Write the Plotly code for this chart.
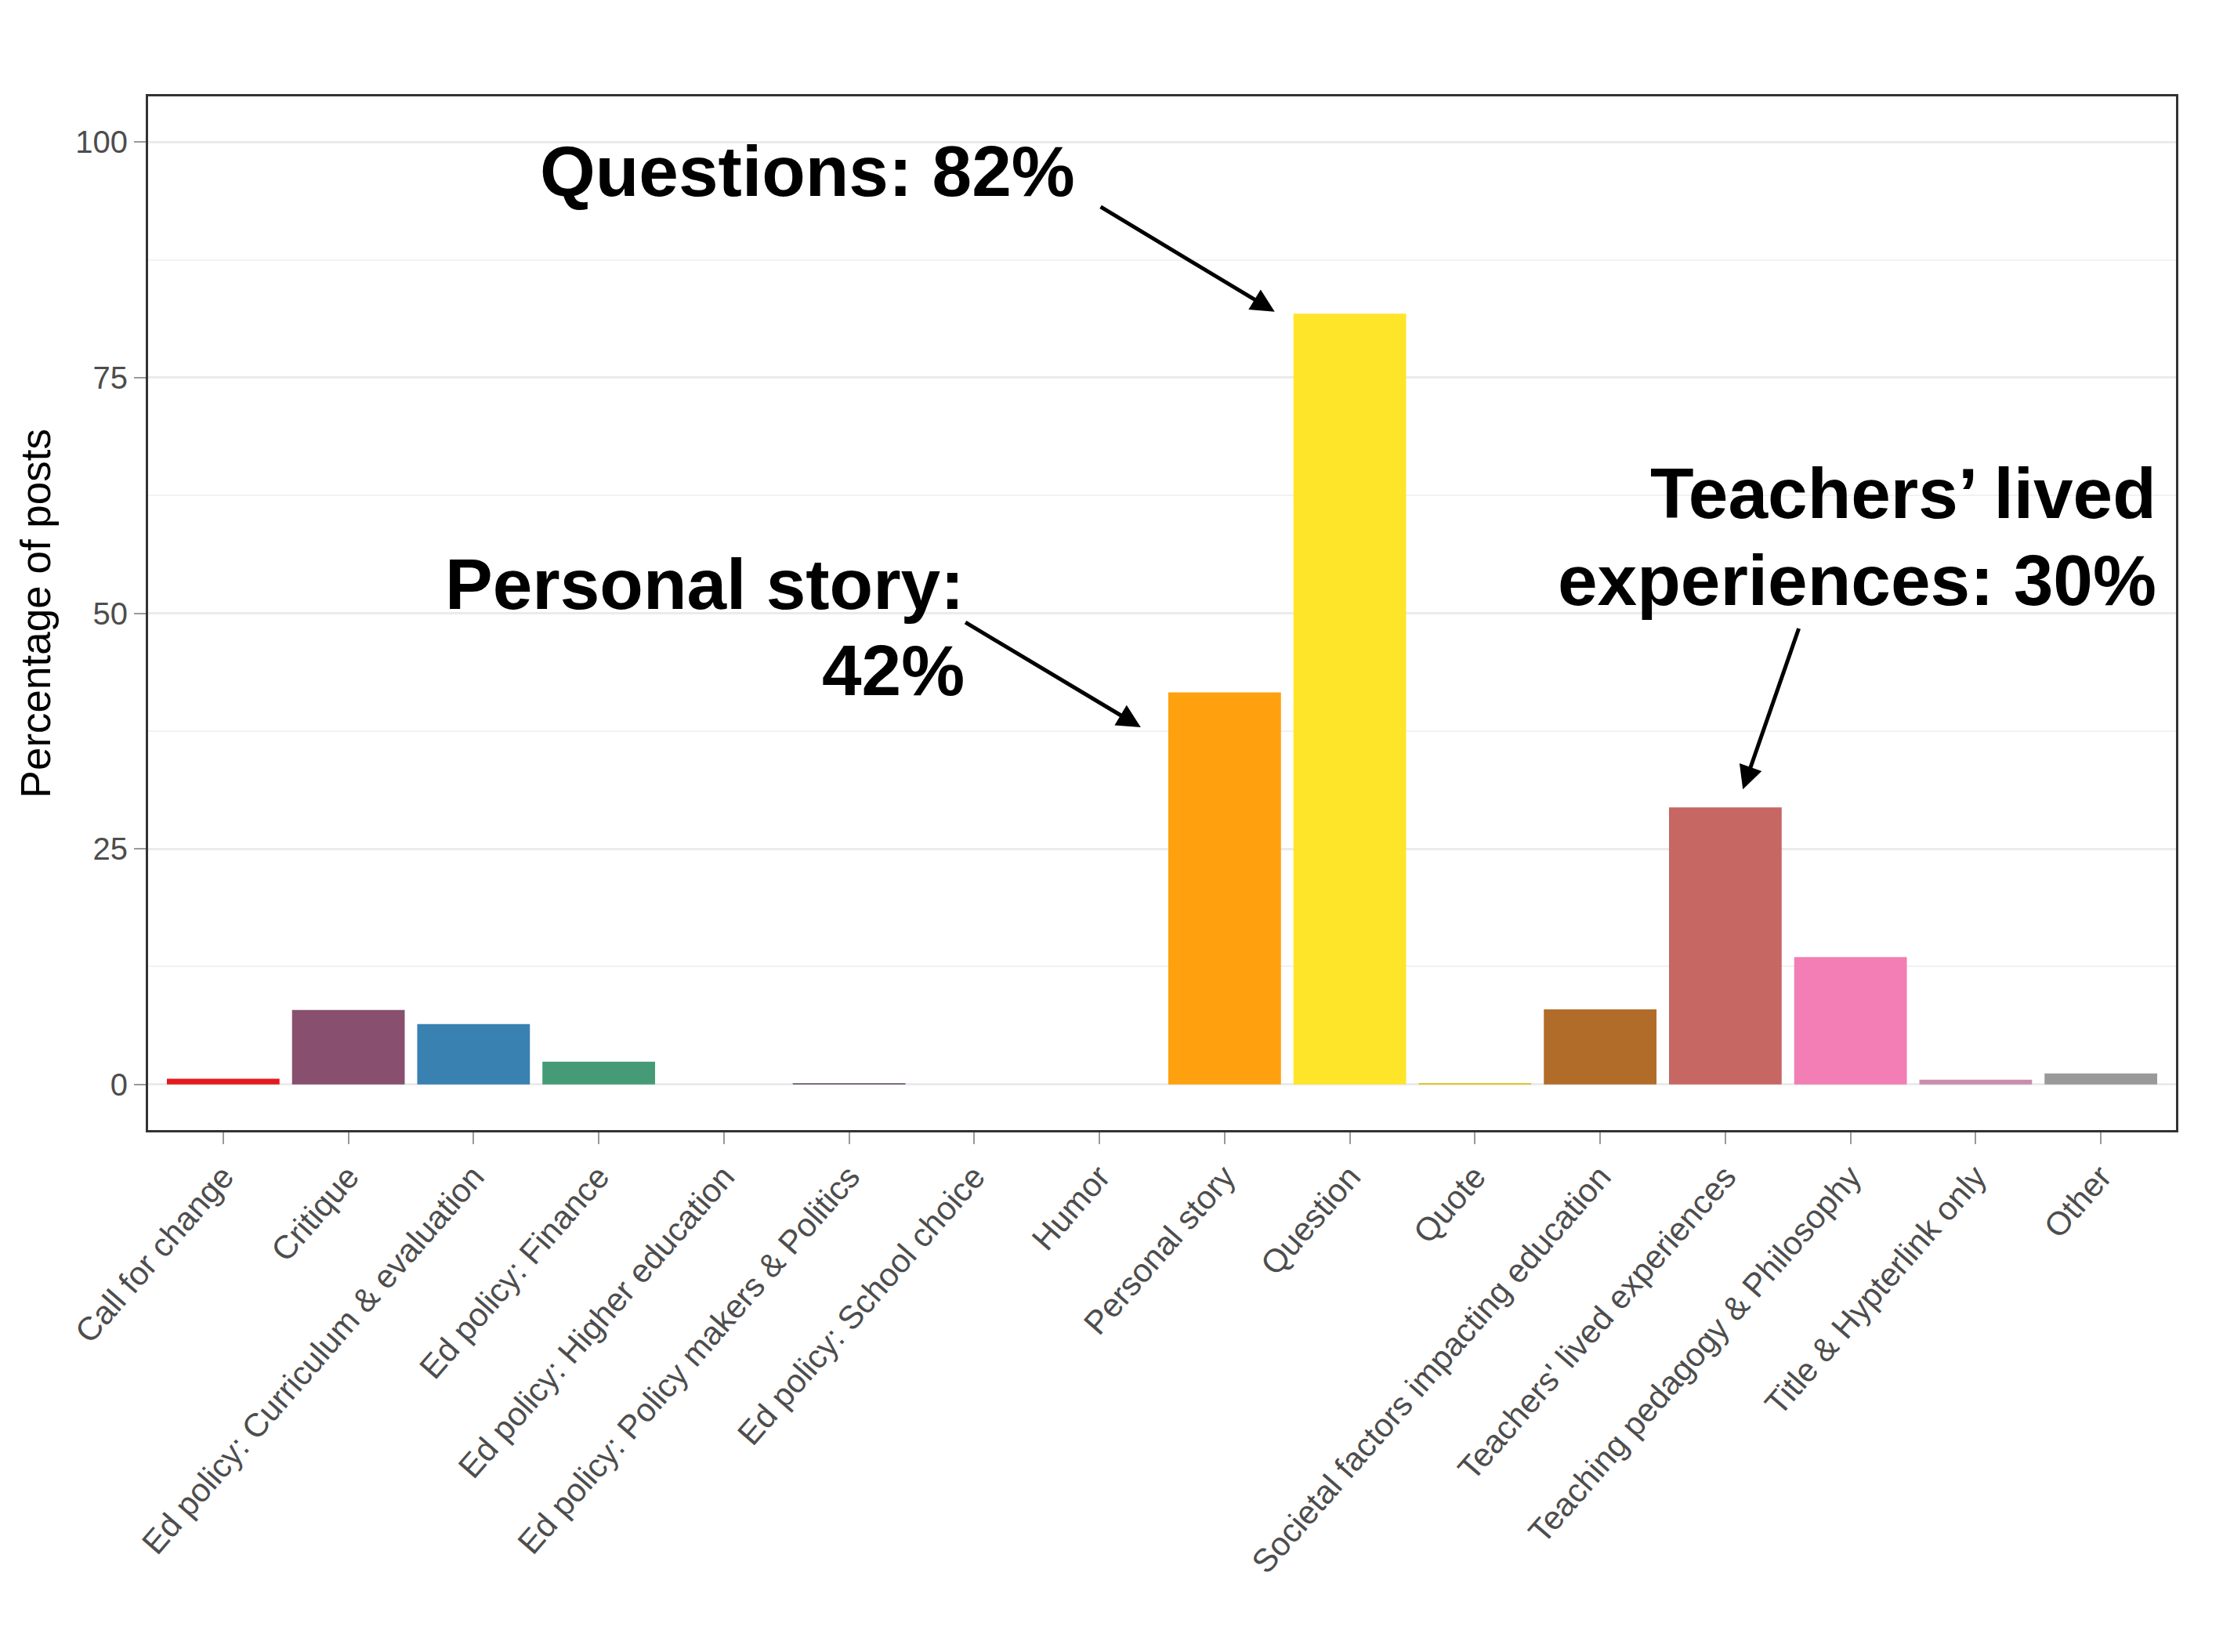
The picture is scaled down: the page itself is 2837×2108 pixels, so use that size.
import plotly.graph_objects as go

categories = [
    "Call for change", "Critique", "Ed policy: Curriculum & evaluation",
    "Ed policy: Finance", "Ed policy: Higher education",
    "Ed policy: Policy makers & Politics", "Ed policy: School choice",
    "Humor", "Personal story", "Question", "Quote",
    "Societal factors impacting education", "Teachers' lived experiences",
    "Teaching pedagogy & Philosophy", "Title & Hypterlink only", "Other",
]
percentages = [0.6, 7.9, 6.4, 2.4, 0.0, 0.15, 0.0, 0.0,
               41.6, 81.8, 0.15, 7.95, 29.4, 13.5, 0.5, 1.15]
bar_colors = [
    "#E41A1C", "#884F6F", "#3981B1", "#449B76", "#57A256", "#7F6E85",
    "#AD5882", "#E4722C", "#FFA10E", "#FFE529", "#E1C72F", "#B26C29",
    "#C66764", "#F27EB5", "#CB8CAD", "#999999",
]
y_ticks = [0, 25, 50, 75, 100]

FONT = "Liberation Sans, Arial, Helvetica, sans-serif"

fig = go.Figure(go.Bar(
    x=list(range(len(categories))), y=percentages,
    marker=dict(color=bar_colors, line=dict(width=0)),
    width=0.9, showlegend=False,
))

fig.update_layout(
    width=2837, height=2108,
    margin=dict(l=181, r=68, t=115, b=674),
    paper_bgcolor="white", plot_bgcolor="white",
    font=dict(family=FONT, color="#4D4D4D"),
)
fig.update_xaxes(
    range=[-0.6, 15.6], tickmode="array",
    tickvals=list(range(len(categories))), ticktext=categories,
    tickangle=-49, tickfont=dict(size=42, color="#4D4D4D", family=FONT),
    ticks="outside", ticklen=15, tickwidth=2, tickcolor="#999999",
    showgrid=False, zeroline=False,
    showline=True, mirror=True, linecolor="#333333", linewidth=3,
)
fig.update_yaxes(
    range=[-4.85, 104.85], tickmode="array", tickvals=y_ticks,
    ticktext=[str(v) for v in y_ticks],
    tickfont=dict(size=40, color="#4D4D4D", family=FONT),
    ticks="outside", ticklen=15, tickwidth=2, tickcolor="#999999",
    showgrid=True, gridcolor="#EBEBEB", gridwidth=3, zeroline=False,
    minor=dict(dtick=12.5, tick0=0, showgrid=True, gridcolor="#F2F2F2",
               gridwidth=1.5, ticks=""),
    showline=True, mirror=True, linecolor="#333333", linewidth=3,
)

# y axis title
fig.add_annotation(
    text="Percentage of posts", xref="paper", yref="paper",
    x=-0.0553, y=0.5, xanchor="center", yanchor="middle",
    textangle=-90, showarrow=False,
    font=dict(size=53, color="black", family=FONT),
)

big = dict(size=91, color="black", family=FONT)
labels = [
    ("<b>Questions: 82%</b>", 6.82, 96.9),
    ("<b>Personal story:</b>", 5.935, 53.1),
    ("<b>42%</b>", 5.935, 43.9),
    ("<b>Teachers\u2019 lived</b>", 15.455, 62.7),
    ("<b>experiences: 30%</b>", 15.455, 53.5),
]
for txt, x, y in labels:
    fig.add_annotation(text=txt, x=x, y=y, xref="x", yref="y",
                       xanchor="right", yanchor="middle",
                       showarrow=False, font=big)

arrows = [
    ((7.0, 93.2), (8.4, 82.0)),
    ((5.92, 49.1), (7.33, 37.9)),
    ((12.59, 48.5), (12.14, 31.3)),
]
for (tx, ty), (hx, hy) in arrows:
    fig.add_annotation(
        x=hx, y=hy, ax=tx, ay=ty, xref="x", yref="y", axref="x", ayref="y",
        text="", showarrow=True, arrowhead=2, arrowsize=1.2,
        arrowwidth=5, arrowcolor="black",
    )

fig.write_html("out.html")
